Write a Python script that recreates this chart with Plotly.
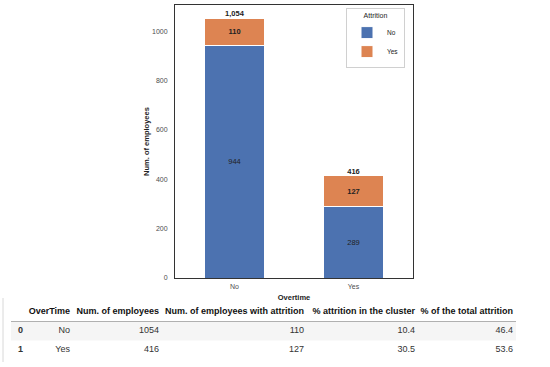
import plotly.graph_objects as go

# ---- data ----
categories = ["No", "Yes"]
attr_no = [944, 289]
attr_yes = [110, 127]

tbl_index = ["0", "1"]
tbl_overtime = ["No", "Yes"]
tbl_num_emp = [1054, 416]
tbl_num_attr = [110, 127]
tbl_pct_cluster = [10.4, 30.5]
tbl_pct_total = [46.4, 53.6]
tbl_headers = ["", "OverTime", "Num. of employees", "Num. of employees with attrition",
               "% attrition in the cluster", "% of the total attrition"]

totals = [a + b for a, b in zip(attr_no, attr_yes)]

W, H = 550, 367
FONT = "Liberation Sans, Arial, sans-serif"
BLUE = "#4c72b0"
ORANGE = "#dd8452"

fig = go.Figure()

# ---- stacked bars ----
fig.add_trace(go.Bar(
    x=categories, y=attr_no, name="No", marker=dict(color=BLUE, line=dict(color="white", width=1)),
    width=0.5, texttemplate="%{y}", textposition="inside", insidetextanchor="middle",
    textangle=0, textfont=dict(family=FONT, size=7.5, color="#222"), hoverinfo="skip",
))
fig.add_trace(go.Bar(
    x=categories, y=attr_yes, name="Yes", marker=dict(color=ORANGE, line=dict(color="white", width=1)),
    width=0.5, texttemplate="<b>%{y}</b>", textposition="inside", insidetextanchor="middle",
    textangle=0, textfont=dict(family=FONT, size=7.5, color="#222"), hoverinfo="skip",
))
fig.add_trace(go.Scatter(
    x=categories, y=totals, mode="text", texttemplate="<b>%{y:,}</b>", textposition="top center",
    textfont=dict(family=FONT, size=7.5, color="#222"), showlegend=False, hoverinfo="skip",
))

# ---- table (text on a hidden pixel-grid axis pair) ----
col_values = [
    tbl_index,
    tbl_overtime,
    [str(v) for v in tbl_num_emp],
    [str(v) for v in tbl_num_attr],
    ["%.1f" % v for v in tbl_pct_cluster],
    ["%.1f" % v for v in tbl_pct_total],
]
col_anchor_px = [18, 70, 159, 304, 415, 513]   # text anchor (left for index, right for others)
row_pos = [-1, 0, 1]  # header, row 0, row 1

for ci, (hdr, vals) in enumerate(zip(tbl_headers, col_values)):
    if ci == 0:
        texts = [""] + ["<b>%s</b>" % v for v in vals]
        pos = "middle right"
    else:
        texts = ["<b>%s</b>" % hdr] + list(vals)
        pos = "middle left"
    fig.add_trace(go.Scatter(
        x=[col_anchor_px[ci]] * len(row_pos), y=row_pos, mode="text", text=texts,
        textposition=pos, textfont=dict(family=FONT, size=9, color=["#111", "#333", "#333"]),
        xaxis="x2", yaxis="y2", showlegend=False, hoverinfo="skip", cliponaxis=False,
    ))

fig.update_layout(
    width=W, height=H, margin=dict(l=0, r=0, t=0, b=0, autoexpand=False),
    paper_bgcolor="white", plot_bgcolor="white",
    barmode="stack", bargap=0.5,
    font=dict(family=FONT, size=7, color="#333"),
    legend=dict(
        title=dict(text="Attrition", side="top center", font=dict(size=7, color="#222")),
        x=405 / W, xanchor="right", y=1 - 8 / H, yanchor="top", traceorder="normal",
        bgcolor="white", bordercolor="#d0d0d0", borderwidth=1,
        font=dict(size=6.5, color="#222"), itemwidth=30, tracegroupgap=0,
    ),
    xaxis=dict(
        domain=[175 / W, 413 / W], range=[-0.5, 1.5], showline=True, mirror=True,
        linecolor="#333", linewidth=1, showgrid=False, ticks="", automargin=False,
        tickfont=dict(size=7, color="#4d4d4d"), ticklabelstandoff=2,
        title=dict(text="<b>Overtime</b>", font=dict(size=7.5, color="#222"), standoff=5),
        anchor="y", fixedrange=True,
    ),
    yaxis=dict(
        domain=[1 - 278 / H, 1 - 5 / H], range=[0, max(totals) * 1.05], showline=True, mirror=True,
        linecolor="#333", linewidth=1, showgrid=False, ticks="", dtick=200, automargin=False,
        tickfont=dict(size=7, color="#4d4d4d"), ticklabelstandoff=5,
        title=dict(text="<b>Num. of employees</b>", font=dict(size=7.5, color="#222"), standoff=1),
        zeroline=False, anchor="x", fixedrange=True,
    ),
    xaxis2=dict(domain=[0, 1], range=[0, W], visible=False, anchor="y2", fixedrange=True),
    yaxis2=dict(domain=[0, 1 - 300 / H], range=[1.89, -1.63], visible=False, anchor="x2",
                fixedrange=True),
    shapes=[
        # row-0 stripe and header divider of the table
        dict(type="rect", xref="x2", yref="y2", x0=11, x1=516, y0=-0.5, y1=0.5,
             fillcolor="#f5f5f5", line=dict(width=0), layer="below"),
        dict(type="line", xref="x2", yref="y2", x0=11, x1=516, y0=-0.5, y1=-0.5,
             line=dict(color="#b0b0b0", width=1)),
        dict(type="line", xref="paper", yref="paper", x0=3 / W, x1=3 / W,
             y0=1 - 298 / H, y1=1 - 362 / H, line=dict(color="#d8d8d8", width=1)),
    ],
)

fig.write_html("out.html", config={"displayModeBar": False},
               post_script="document.body.style.margin='0';")
